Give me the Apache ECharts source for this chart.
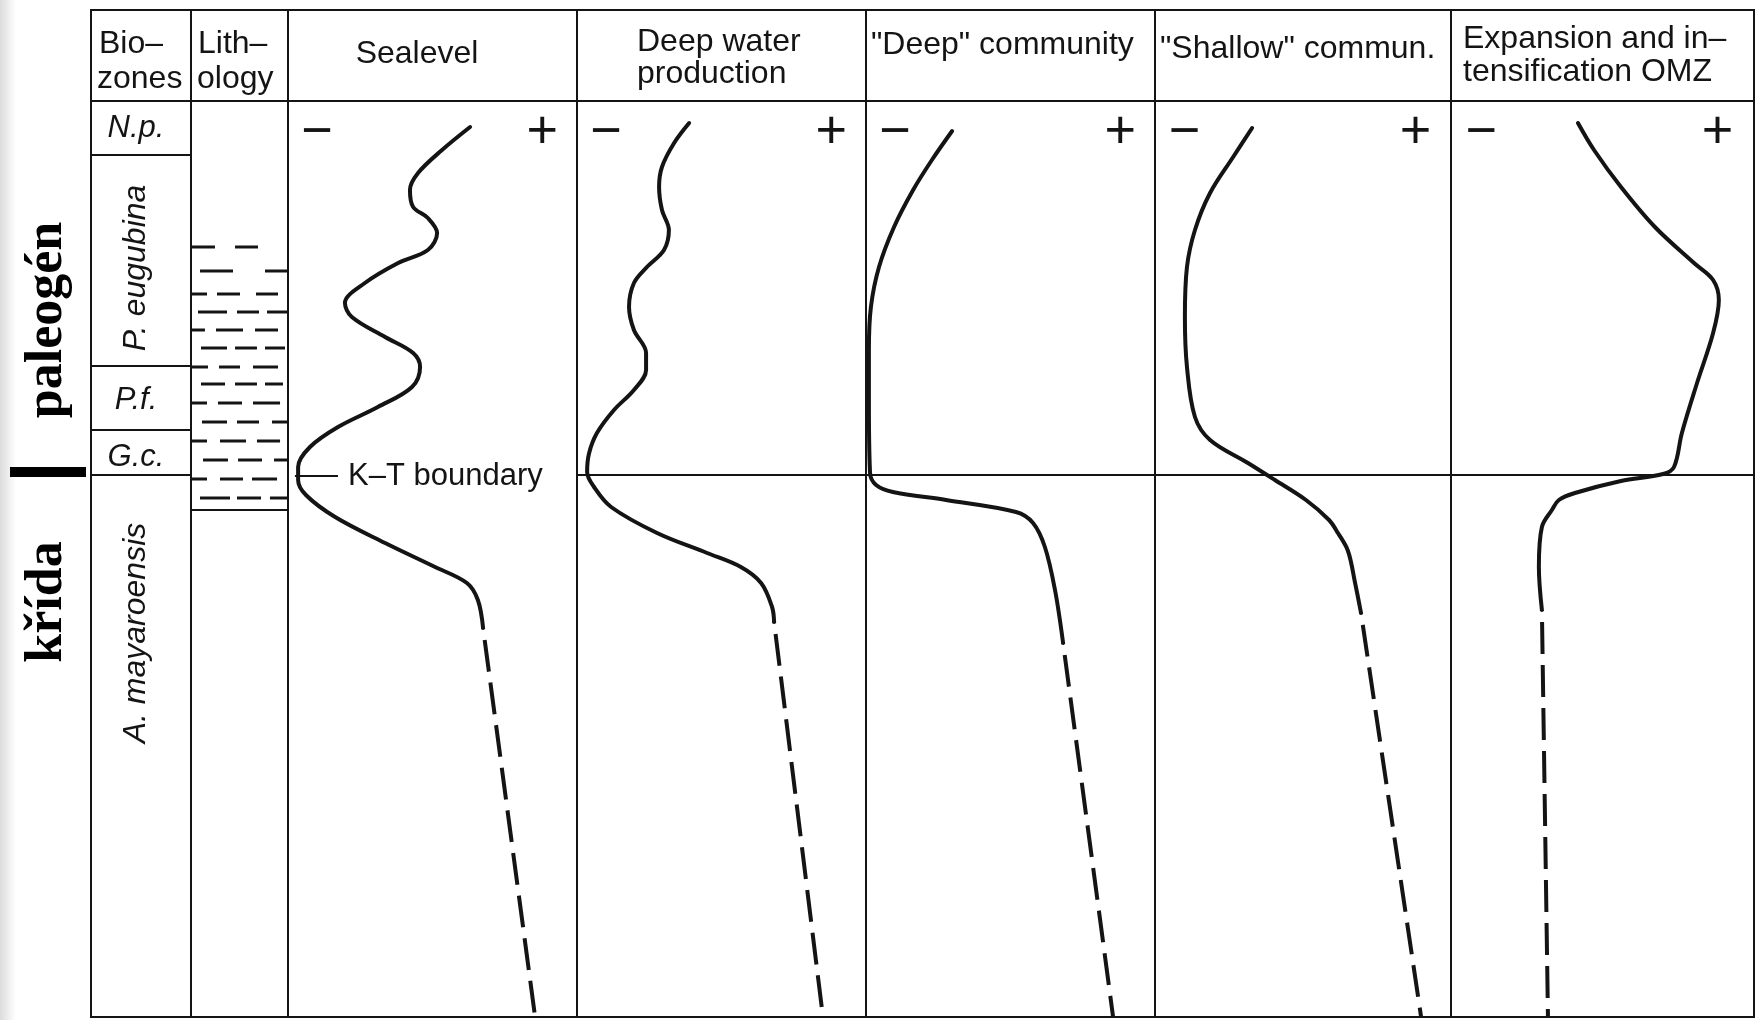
<!DOCTYPE html>
<html>
<head>
<meta charset="utf-8">
<script src="https://cdn.jsdelivr.net/npm/echarts@6/dist/echarts.min.js"></script>
<style>
  html, body { margin: 0; padding: 0; background: #fff; }
  #chart { width: 1762px; height: 1020px; }
</style>
</head>
<body>
<div id="chart"></div>
<script>
// levels are measured downward from the header line (0 = top, 916 = base of section)
var KT = 374

var zoneNames = ['N.p.', 'P. eugubina', 'P.f.', 'G.c.', 'A. mayaroensis']
var zoneTops = [0, 54, 265, 329, 374]
var zoneBases = [54, 265, 329, 374, 916]
var zoneLabelLevels = [27, 167, 299, 356, 532]
var zoneRotated = [false, true, false, false, true]

// marl dashes in the lithology column: [level, from, to] (0-100 across the column)
var lithDashes = [
  [146, 0, 24.7], [146, 45.4, 69.1],
  [170, 9.3, 43.3], [170, 76.3, 100],
  [193, 0, 16.5], [193, 26.8, 50.5], [193, 67.0, 89.7],
  [211, 7.2, 37.1], [211, 47.4, 70.1], [211, 78.4, 100],
  [229, 0, 14.4], [229, 25.8, 53.6], [229, 66.0, 89.7],
  [247, 10.3, 37.1], [247, 45.4, 68.0], [247, 76.3, 96.9],
  [266, 0, 17.5], [266, 28.9, 50.5], [266, 63.9, 89.7],
  [283, 10.3, 35.1], [283, 45.4, 68.0], [283, 76.3, 94.8],
  [302, 0, 16.5], [302, 27.8, 52.6], [302, 63.9, 91.8],
  [321, 11.3, 37.1], [321, 47.4, 70.1], [321, 83.5, 100],
  [340, 0, 16.5], [340, 29.9, 56.7], [340, 68.0, 91.8],
  [359, 12.4, 38.1], [359, 48.5, 73.2], [359, 85.6, 100],
  [378, 0, 16.5], [378, 29.9, 53.6], [378, 62.9, 88.7],
  [397, 9.3, 40.2], [397, 47.4, 72.2], [397, 81.4, 100]
]
var lithBase = 409

// curves: [value (- 0 .. 100 +), level]
var sealevel = [
  [63.0, 26], [53.3, 49], [45.0, 72], [42.2, 89], [43.3, 106], [48.4, 117], [51.6, 132],
  [48.4, 149], [38.1, 162], [26.6, 182], [19.7, 202], [22.1, 216], [33.6, 236], [43.3, 252],
  [45.7, 266], [42.9, 286], [31.1, 306], [17.3, 326], [7.6, 346], [3.5, 366], [3.5, 379],
  [6.2, 394], [16.3, 416], [33.6, 442], [50.9, 466], [61.9, 482], [65.7, 499], [67.5, 527]
]
var sealevelDashed = [[67.5, 527], [85.5, 916]]

var deepWater = [
  [38.8, 22], [33.6, 42], [29.4, 66], [28.4, 86], [29.4, 109], [31.8, 129], [30.1, 149],
  [24.2, 166], [19.7, 182], [18.0, 206], [19.7, 229], [23.9, 252], [23.9, 269], [19.7, 289],
  [12.8, 309], [6.9, 332], [4.2, 352], [3.5, 371], [5.9, 386], [11.8, 406], [27.7, 432],
  [45.0, 452], [56.7, 466], [63.7, 482], [67.5, 506], [68.2, 521]
]
var deepWaterDashed = [[68.2, 521], [85.1, 916]]

var deepComm = [
  [29.8, 30], [22.8, 59], [16.3, 89], [9.7, 126], [4.5, 166], [1.7, 206], [1.0, 249],
  [1.0, 299], [1.4, 372], [3.5, 384], [9.3, 391], [27.7, 399], [51.9, 411], [57.8, 422],
  [61.9, 446], [65.4, 489], [68.2, 542]
]
var deepCommDashed = [[68.2, 542], [85.5, 916]]

var shallowComm = [
  [32.8, 27], [26.4, 56], [18.6, 92], [13.5, 129], [10.8, 166], [10.1, 216], [10.8, 266],
  [13.5, 316], [18.6, 339], [31.4, 362], [40.5, 379], [51.0, 399], [58.8, 419], [61.8, 432],
  [65.2, 450], [67.6, 482], [69.6, 512]
]
var shallowCommDashed = [[69.6, 512], [89.9, 916]]

var omz = [
  [41.9, 22], [47.2, 49], [56.1, 86], [67.3, 126], [80.2, 162], [86.5, 179], [88.4, 199],
  [86.5, 232], [81.2, 282], [76.2, 332], [73.6, 366], [70.0, 373], [56.1, 380], [40.9, 392],
  [35.6, 399], [33.3, 409], [30.0, 426], [29.0, 466], [30.0, 509]
]
var omzDashed = [[30.0, 509], [32.0, 916]]

var signTicks = [10, 88]

var chart = echarts.init(document.getElementById('chart'))
var ink = '#141414'
var sans = '"Liberation Sans", Arial, sans-serif'
var serif = '"Liberation Serif", "Times New Roman", serif'
var colEdges = [91, 191, 288, 577, 866, 1155, 1451, 1754]
var yTop = 10
var yHead = 101
var yBase = 1017
var levelMax = 916

var grids = []
var xAxes = []
var yAxes = []
for (var i = 0; i < 7; i++) {
  grids.push({
    left: colEdges[i], top: yHead,
    width: colEdges[i + 1] - colEdges[i], height: yBase - yHead,
    show: false, containLabel: false, outerBoundsMode: 'none'
  })
  xAxes.push({
    gridIndex: i, type: 'value', min: 0, max: 100, position: 'top',
    axisLine: { show: false }, axisTick: { show: false }, splitLine: { show: false },
    axisLabel: i < 2 ? { show: false } : {
      inside: true, margin: 5, customValues: signTicks,
      formatter: function (v) { return v < 50 ? '\u2212' : '+' },
      fontSize: 54, color: ink, fontFamily: sans
    }
  })
  yAxes.push({
    gridIndex: i, type: 'value', min: 0, max: levelMax, inverse: true, show: false
  })
}

var ktLine = {
  silent: true, symbol: ['none', 'none'], label: { show: false },
  lineStyle: { color: ink, width: 2, type: 'solid' },
  emphasis: { disabled: true },
  data: [{ yAxis: KT }]
}

function curve(idx, solid, dashed, withKT) {
  var s = {
    type: 'line', xAxisIndex: idx, yAxisIndex: idx, data: solid,
    symbol: 'none', smooth: 0.35, silent: true,
    lineStyle: { color: ink, width: 4, cap: 'round' }
  }
  if (withKT) s.markLine = ktLine
  var d = {
    type: 'line', xAxisIndex: idx, yAxisIndex: idx, data: dashed,
    symbol: 'none', silent: true,
    lineStyle: { color: ink, width: 4, type: [32, 11], dashOffset: -12 }
  }
  return [s, d]
}

var series = [
  {
    type: 'custom', xAxisIndex: 0, yAxisIndex: 0, silent: true,
    data: zoneNames.map(function (n, k) { return [zoneTops[k], zoneBases[k], zoneLabelLevels[k]] }),
    encode: { y: [0, 1, 2] },
    renderItem: function (params, api) {
      var k = params.dataIndex
      var base = api.value(1)
      var lab = api.coord([45, api.value(2)])
      var children = [{
        type: 'text', x: lab[0], y: lab[1],
        rotation: zoneRotated[k] ? Math.PI / 2 : 0,
        style: {
          text: zoneNames[k], fill: ink, align: 'center', verticalAlign: 'middle',
          font: 'italic ' + (zoneRotated[k] ? 32 : 31) + 'px ' + sans
        }
      }]
      if (base < levelMax) {
        var a = api.coord([0, base])
        var b = api.coord([100, base])
        children.push({
          type: 'line', shape: { x1: a[0], y1: a[1], x2: b[0], y2: b[1] },
          style: { stroke: ink, lineWidth: 2 }
        })
      }
      return { type: 'group', children: children }
    }
  },
  {
    type: 'custom', xAxisIndex: 1, yAxisIndex: 1, silent: true,
    data: lithDashes,
    encode: { x: [1, 2], y: 0 },
    renderItem: function (params, api) {
      var a = api.coord([api.value(1), api.value(0)])
      var b = api.coord([api.value(2), api.value(0)])
      return {
        type: 'line', shape: { x1: a[0], y1: a[1], x2: b[0], y2: b[1] },
        style: { stroke: ink, lineWidth: 3 }
      }
    },
    markLine: {
      silent: true, symbol: ['none', 'none'], label: { show: false },
      lineStyle: { color: ink, width: 2, type: 'solid' },
      data: [{ yAxis: lithBase }]
    }
  },
  {
    type: 'line', xAxisIndex: 2, yAxisIndex: 2, silent: true, symbol: 'none',
    data: [[2.4, KT + 1], [17.3, KT + 1]],
    lineStyle: { color: ink, width: 2 },
    endLabel: {
      show: true, formatter: 'K\u2013T boundary', distance: 10,
      fontSize: 31, color: ink, fontFamily: sans
    }
  }
]
series = series
  .concat(curve(2, sealevel, sealevelDashed, false))
  .concat(curve(3, deepWater, deepWaterDashed, true))
  .concat(curve(4, deepComm, deepCommDashed, true))
  .concat(curve(5, shallowComm, shallowCommDashed, true))
  .concat(curve(6, omz, omzDashed, true))

// table frame and header cells
var graphics = [
  {
    type: 'rect', shape: { x: 0, y: 0, width: 16, height: 1020 }, silent: true,
    style: {
      fill: new echarts.graphic.LinearGradient(0, 0, 1, 0, [
        { offset: 0, color: '#dcdcdc' }, { offset: 1, color: '#ffffff' }
      ])
    }
  },
  {
    type: 'rect', shape: { x: colEdges[0], y: yTop, width: colEdges[7] - colEdges[0], height: yBase - yTop },
    style: { fill: null, stroke: ink, lineWidth: 2 }, z: 10
  },
  {
    type: 'line', shape: { x1: colEdges[0], y1: yHead, x2: colEdges[7], y2: yHead },
    style: { stroke: ink, lineWidth: 2 }, z: 10
  }
]
for (var j = 1; j < 7; j++) {
  graphics.push({
    type: 'line', shape: { x1: colEdges[j], y1: yTop, x2: colEdges[j], y2: yBase },
    style: { stroke: ink, lineWidth: 2 }, z: 10
  })
}

var headers = [
  ['Bio\u2013', 99, 44, 'left'], ['zones', 97, 79, 'left'],
  ['Lith\u2013', 198, 44, 'left'], ['ology', 197, 79, 'left'],
  ['Sealevel', 417, 54, 'center'],
  ['Deep water', 637, 42, 'left'], ['production', 637, 74, 'left'],
  ['"Deep" community', 871, 45, 'left'],
  ['"Shallow" commun.', 1160, 49, 'left'],
  ['Expansion and in\u2013', 1463, 39, 'left'], ['tensification OMZ', 1463, 72, 'left']
]
headers.forEach(function (h) {
  graphics.push({
    type: 'text', x: h[1], y: h[2], z: 10,
    style: { text: h[0], fill: ink, font: '32px ' + sans, align: h[3], verticalAlign: 'middle' }
  })
})

// period names at the left margin
graphics.push(
  {
    type: 'text', x: 48, y: 320, rotation: Math.PI / 2, z: 10,
    style: { text: 'paleog\u00e9n', fill: '#000', font: 'bold 52px ' + serif, align: 'center', verticalAlign: 'middle' }
  },
  {
    type: 'text', x: 48, y: 602, rotation: Math.PI / 2, z: 10,
    style: { text: 'k\u0159\u00edda', fill: '#000', font: 'bold 52px ' + serif, align: 'center', verticalAlign: 'middle' }
  },
  {
    type: 'rect', shape: { x: 10, y: 467, width: 76, height: 10 }, z: 10,
    style: { fill: '#000' }
  }
)

chart.setOption({
  animation: false,
  backgroundColor: '#ffffff',
  grid: grids,
  xAxis: xAxes,
  yAxis: yAxes,
  series: series,
  graphic: graphics
})
</script>
</body>
</html>
